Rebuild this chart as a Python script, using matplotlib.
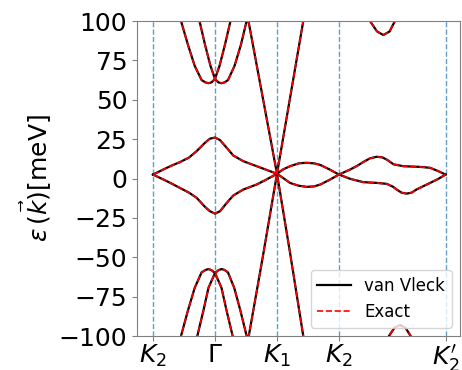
import numpy as np
import matplotlib.pyplot as plt

# high symmetry points along the path
kpts = [0.0, 1.0, 2.0, 3.0, 4.72]
klabels = [r'$K_2$', r'$\Gamma$', r'$K_1$', r'$K_2$', r"$K_2'$"]

# flat bands (meV)
flat_up_x = [0.0, 0.166, 0.29, 0.435, 0.581, 0.705, 0.839, 0.919, 1.0, 1.081, 1.189, 1.295, 1.456, 1.673, 1.823,
             2.0, 2.1, 2.21, 2.35, 2.48, 2.6, 2.7, 2.85,
             3.0, 3.18, 3.3, 3.39, 3.5, 3.61, 3.7, 3.78, 3.88, 4.04, 4.3, 4.47, 4.6, 4.72]
flat_up_y = [2.5, 5.7, 8.0, 10.4, 13.3, 17.4, 22.7, 25.3, 26.0, 24.4, 19.5, 14.6, 11.0, 7.8, 5.6,
             3.0, 5.8, 7.8, 9.6, 10.0, 9.6, 8.6, 5.7,
             2.5, 5.7, 8.2, 10.4, 12.8, 13.8, 13.4, 11.8, 9.0, 7.8, 7.4, 6.8, 4.7, 2.5]
flat_dn_x = [0.0, 0.166, 0.29, 0.435, 0.581, 0.705, 0.839, 0.919, 1.0, 1.081, 1.189, 1.295, 1.456, 1.673, 1.823,
             2.0, 2.1, 2.21, 2.35, 2.48, 2.6, 2.7, 2.85,
             3.0, 3.18, 3.39, 3.61, 3.77, 3.87, 3.93, 4.01, 4.09, 4.17, 4.25, 4.47, 4.6, 4.72]
flat_dn_y = [2.5, -0.6, -3.0, -6.0, -9.0, -12.3, -18.0, -20.8, -22.3, -20.8, -15.5, -10.8, -7.0, -3.8, -0.8,
             3.0, 0.3, -2.8, -4.6, -5.3, -5.0, -3.8, -0.8,
             2.5, -0.2, -2.3, -2.8, -3.4, -5.2, -7.0, -9.0, -9.6, -9.0, -7.0, -2.8, -0.3, 2.5]

# remote conduction bands
c1_x = [0.385, 0.452, 0.563, 0.673, 0.784, 0.847, 0.895, 0.944, 1.0, 1.073, 1.161, 1.25, 1.303]
c1_y = [108, 100, 85, 71.5, 62.5, 61.0, 60.5, 61.0, 63.3, 71.5, 85, 100, 108]
c2_x = [0.697, 0.75, 0.839, 0.927, 1.0, 1.056, 1.105, 1.153, 1.21, 1.315, 1.419, 1.51, 1.527, 1.54,
        1.77, 2.0, 2.21, 2.424, 2.45]
c2_y = [108, 100, 85, 71.5, 63.3, 61.0, 60.5, 61.0, 62.5, 71.5, 85, 100, 102.6, 100,
        51.5, 3.0, -47, -100, -106]
c3_x = [3.419, 3.5, 3.613, 3.715, 3.815, 3.903, 3.984]
c3_y = [110, 100, 93.4, 91.1, 93.3, 100, 109]

# remote valence bands
v1_x = [0.385, 0.452, 0.563, 0.673, 0.784, 0.847, 0.892, 0.94, 1.0, 1.105, 1.187, 1.285, 1.345]
v1_y = [-108.5, -100, -83.9, -69.4, -59.6, -58.1, -57.5, -58.1, -60.0, -69.4, -83.9, -100, -108.5]
v2_x = [0.655, 0.715, 0.813, 0.895, 1.0, 1.06, 1.108, 1.156, 1.209, 1.31, 1.41, 1.511, 1.527, 1.545,
        1.77, 2.0, 2.21, 2.424, 2.45]
v2_y = [-108.5, -100, -83.9, -69.4, -60.0, -58.1, -57.5, -58.1, -59.6, -69.4, -83.9, -100, -103, -100,
        -50, 3.0, 51, 100, 106]
v3_x = [3.726, 3.806, 3.895, 3.984, 4.073, 4.156, 4.242]
v3_y = [-110, -100, -94.8, -93, -94.8, -100, -110]

bands = [(flat_up_x, flat_up_y), (flat_dn_x, flat_dn_y),
         (c1_x, c1_y), (c2_x, c2_y), (c3_x, c3_y),
         (v1_x, v1_y), (v2_x, v2_y), (v3_x, v3_y)]

fig = plt.figure(figsize=(4.62, 3.70), dpi=100)
ax = fig.add_axes([137/462, 34/370, 323/462, 315/370])

for k in kpts:
    ax.axvline(k + 0.008, color='#1f77b4', ls='--', lw=1.0, alpha=0.7, zorder=0)

for i, (bx, by) in enumerate(bands):
    ax.plot(bx, by, color='black', lw=1.6, label='van Vleck' if i == 0 else None)
for i, (bx, by) in enumerate(bands):
    ax.plot(bx, by, color='red', ls='--', lw=1.2, label='Exact' if i == 0 else None)

ax.set_xlim(-0.258, 4.952)
ax.set_ylim(-100, 100)
ax.set_xticks(kpts)
ax.set_xticklabels(klabels)
ax.set_yticks(np.arange(-100, 101, 25))
ax.tick_params(labelsize=18, color='gray')
ax.tick_params(axis='x', pad=1.5)
for s in ax.spines.values():
    s.set_color('gray')
ax.set_ylabel(r'$\varepsilon\,(\vec{k})$[meV]', fontsize=18)
ax.legend(loc='lower right', fontsize=12)

fig.savefig('out.png', dpi=100)
